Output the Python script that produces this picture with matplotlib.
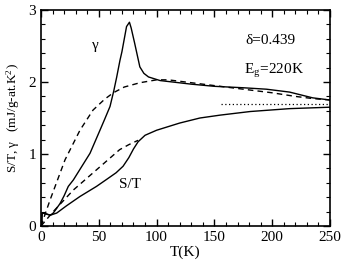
import numpy as np
import matplotlib.pyplot as plt
from matplotlib.ticker import MultipleLocator

plt.rcParams['font.family'] = ['Liberation Serif', 'DejaVu Serif']
plt.rcParams['mathtext.fontset'] = 'stix'

# ----------------------------------------------------------------
# data
# ----------------------------------------------------------------
# gamma, measured (solid)
T_gam = [0.5, 1, 4, 8, 10.6, 16.4, 20, 23.6, 28, 35, 42.4, 51, 55, 59.7, 63, 65.5,
         68.3, 70, 74, 76.5, 78, 81, 85.5, 89, 93, 103, 130, 150, 175, 195, 215, 235, 250]
gam = [0.02, 0.18, 0.17, 0.15, 0.18, 0.31, 0.42, 0.55, 0.64, 0.82, 1.01, 1.33,
       1.48, 1.66, 1.88, 2.07, 2.3, 2.42, 2.77, 2.83, 2.75, 2.54, 2.21, 2.12, 2.07, 2.02,
       1.97, 1.94, 1.92, 1.9, 1.86, 1.78, 1.75]

# gamma, model (dashed)
T_gam_fit = [0, 7.8, 20.8, 33.7, 45, 55, 62.5, 72, 85.6, 100, 110, 130, 150, 175,
             200, 220, 235, 250]
gam_fit = [0.0, 0.36, 0.92, 1.33, 1.61, 1.76, 1.85, 1.93, 1.99, 2.03, 2.03,
           1.99, 1.95, 1.9, 1.85, 1.8, 1.77, 1.75]

# S/T, measured (solid)
T_st = [0.5, 1, 4, 8, 13.6, 22, 33.7, 48, 57, 65, 71, 76, 80, 84, 90, 100, 120,
        137.5, 155, 181, 215, 250]
st = [0.02, 0.18, 0.17, 0.15, 0.18, 0.28, 0.41, 0.55, 0.65, 0.74, 0.83, 0.95,
      1.07, 1.17, 1.26, 1.33, 1.43, 1.5, 1.54, 1.59, 1.63, 1.65]

# S/T, model (dashed)
T_st_fit = [0, 10.6, 28, 48, 68, 76, 84]
st_fit = [0.0, 0.2, 0.5, 0.78, 1.06, 1.13, 1.19]

# high-temperature limit (dotted)
T_lim = [156, 250]
st_lim = [1.69, 1.69]

# ----------------------------------------------------------------
fig = plt.figure(figsize=(3.46, 2.72), dpi=100)
ax = fig.add_axes([41/346, 46/272, 289/346, 216/272])

ax.plot(T_gam, gam, color='k', lw=1.0)
ax.plot(T_gam_fit, gam_fit, color='k', lw=1.0, ls=(0, (4, 3)))
ax.plot(T_st, st, color='k', lw=1.0)
ax.plot(T_st_fit, st_fit, color='k', lw=1.0, ls=(0, (4, 3)))
ax.plot(T_lim, st_lim, color='k', lw=0.9, ls=(0, (1, 2)))

ax.set_xlim(0, 250)
ax.set_ylim(0, 3)
ax.xaxis.set_major_locator(MultipleLocator(50))
ax.xaxis.set_minor_locator(MultipleLocator(10))
ax.yaxis.set_major_locator(MultipleLocator(1))
ax.yaxis.set_minor_locator(MultipleLocator(0.2))
ax.tick_params(which='both', direction='in', top=True, right=True, labelsize=11)
ax.tick_params(which='major', length=5, width=1)
ax.tick_params(which='minor', length=3, width=0.8)
for s in ax.spines.values():
    s.set_linewidth(1.2)

ax.set_xlabel('T(K)', fontsize=11, labelpad=1)
ax.set_ylabel('S/T, γ   (mJ/g-at.K$^\\mathregular{2}$)', fontsize=9.5, labelpad=4)

ax.text(47, 2.5, 'γ', fontsize=11, ha='center', va='center')
ax.text(77, 0.57, 'S/T', fontsize=11, ha='center', va='center')
ax.text(177, 2.58, 'δ=0.439', fontsize=11, ha='left', va='center')
ax.text(176, 2.15, 'E$_\\mathregular{g}$=220K', fontsize=11, ha='left', va='center')

fig.savefig('out.png', dpi=100)
